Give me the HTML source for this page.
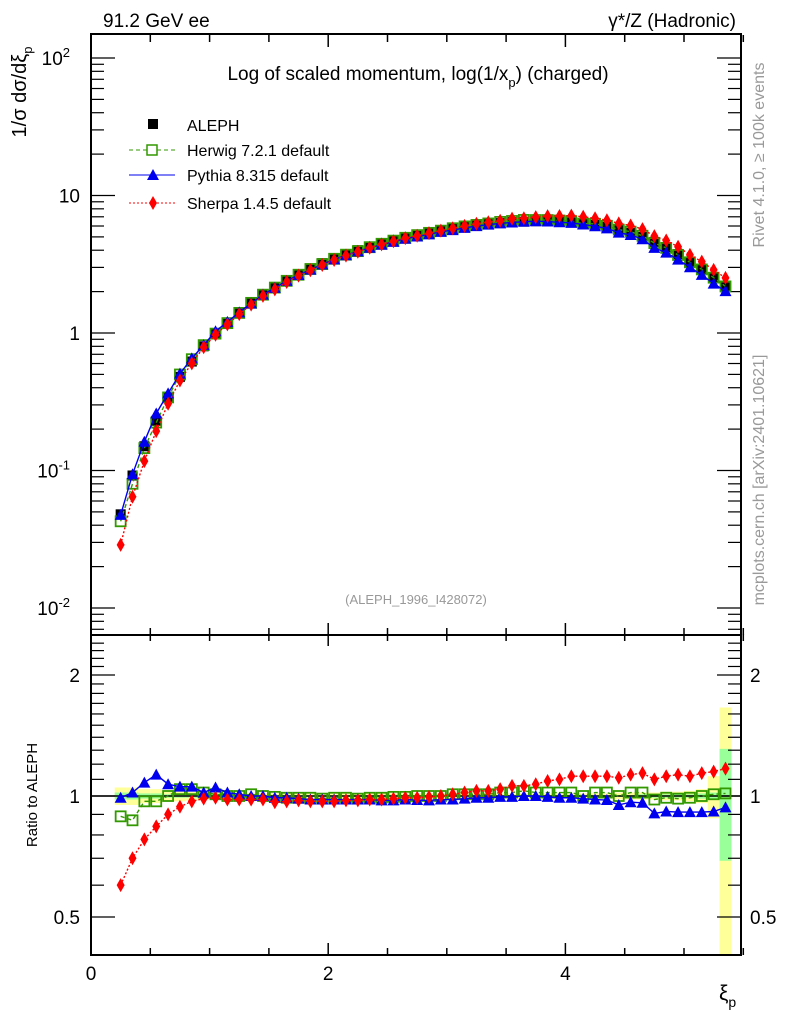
<!DOCTYPE html>
<html><head><meta charset="utf-8"><style>
body{margin:0;background:#fff}
svg{display:block;font-family:"Liberation Sans",sans-serif}
</style></head><body>
<svg id="c" width="786" height="1024" viewBox="0 0 786 1024" xmlns="http://www.w3.org/2000/svg">
<g id="bands"></g><g id="grid"></g><g id="series"></g>
<rect x="91" y="34" width="650" height="601" fill="none" stroke="#000" stroke-width="2"/>
<rect x="91" y="635" width="650" height="320" fill="none" stroke="#000" stroke-width="2"/>
<text x="103" y="27" font-size="19">91.2 GeV ee</text>
<text x="736" y="27" font-size="19" text-anchor="end">γ*/Z (Hadronic)</text>
<text x="418" y="80" font-size="19" text-anchor="middle">Log of scaled momentum, log(1/x<tspan font-size="13" dy="7">p</tspan><tspan dy="-7">) (charged)</tspan></text>
<text x="416" y="604" font-size="13" fill="#999" text-anchor="middle">(ALEPH_1996_I428072)</text>
<g>
<rect x="148" y="119" width="10" height="10" fill="#000"/>
<text x="187" y="131" font-size="16">ALEPH</text>
<line x1="129" y1="150" x2="175" y2="150" stroke="#339900" stroke-dasharray="4,3"/>
<rect x="147" y="145" width="10" height="10" fill="#fff" stroke="#339900" stroke-width="1.5"/>
<text x="187" y="156" font-size="16">Herwig 7.2.1 default</text>
<line x1="129" y1="175" x2="175" y2="175" stroke="#0000ee"/>
<path d="M153,169 L159,180 L147,180Z" fill="#0000ee"/>
<text x="187" y="181" font-size="16">Pythia 8.315 default</text>
<line x1="129" y1="203" x2="175" y2="203" stroke="#ff0000" stroke-dasharray="2,2"/>
<path d="M153,196 L157,203 L153,210 L149,203Z" fill="#ff0000"/>
<text x="187" y="209" font-size="16">Sherpa 1.4.5 default</text>
</g>
<text transform="translate(26,92) rotate(-90)" font-size="20" text-anchor="middle">1/σ   dσ/dξ<tspan font-size="13" dy="6">p</tspan></text>
<text transform="translate(37,795) rotate(-90)" font-size="15" text-anchor="middle">Ratio to ALEPH</text>
<text x="719" y="1000" font-size="21">ξ<tspan font-size="14" dy="7">p</tspan></text>
<text transform="translate(764,155) rotate(-90)" font-size="16" fill="#999" text-anchor="middle">Rivet 4.1.0, ≥ 100k events</text>
<text transform="translate(764,480) rotate(-90)" font-size="16" fill="#999" text-anchor="middle">mcplots.cern.ch [arXiv:2401.10621]</text>
</svg>
<script>
const xi = [0.25,0.35,0.45,0.55,0.65,0.75,0.85,0.95,1.05,1.15,1.25,1.35,1.45,1.55,1.65,1.75,1.85,1.95,2.05,2.15,2.25,2.35,2.45,2.55,2.65,2.75,2.85,2.95,3.05,3.15,3.25,3.35,3.45,3.55,3.65,3.75,3.85,3.95,4.05,4.15,4.25,4.35,4.45,4.55,4.65,4.75,4.85,4.95,5.05,5.15,5.25,5.35];
const aleph = [0.048,0.092,0.15,0.23,0.34,0.48,0.62,0.8,0.98,1.18,1.4,1.64,1.9,2.15,2.42,2.68,2.95,3.22,3.5,3.75,4.0,4.25,4.5,4.72,4.95,5.15,5.35,5.55,5.72,5.9,6.05,6.2,6.3,6.4,6.45,6.5,6.5,6.45,6.38,6.25,6.1,5.9,5.65,5.35,5.0,4.6,4.2,3.75,3.3,2.9,2.5,2.15];
const herwigRatio = [0.89,0.87,0.97,0.97,1.0,1.04,1.04,1.02,1.01,1.0,1.0,1.01,1.0,0.995,0.99,0.99,0.99,0.985,0.99,0.99,0.985,0.99,0.99,0.995,0.995,1.0,1.0,1.0,1.01,1.01,1.01,1.01,1.02,1.02,1.03,1.02,1.02,1.02,1.02,1.0,1.02,1.02,1.0,1.02,1.02,0.98,0.99,0.985,0.99,1.0,1.01,1.015];
const pythiaRatio = [0.99,1.02,1.08,1.13,1.07,1.055,1.055,1.02,1.05,1.02,1.01,1.0,1.0,0.99,0.99,0.985,0.98,0.98,0.98,0.98,0.98,0.98,0.975,0.975,0.98,0.977,0.975,0.98,0.98,0.985,0.99,0.99,0.995,0.995,1.0,1.0,0.995,0.99,0.99,0.985,0.98,0.977,0.95,0.965,0.962,0.905,0.915,0.912,0.912,0.912,0.915,0.937];
const sherpaRatio = [0.6,0.7,0.78,0.84,0.9,0.94,0.97,0.985,0.99,0.98,0.98,0.98,0.98,0.965,0.97,0.975,0.97,0.97,0.97,0.975,0.975,0.98,0.98,0.985,0.99,0.99,0.995,1.0,1.01,1.02,1.03,1.03,1.04,1.06,1.06,1.07,1.09,1.1,1.12,1.12,1.12,1.12,1.11,1.13,1.14,1.1,1.12,1.13,1.12,1.14,1.15,1.17];
const totErr = [0.05,0.05,0.04,0.04,0.03,0.03,0.025,0.02,0.02,0.02,0.02,0.015,0.015,0.015,0.015,0.015,0.015,0.015,0.015,0.015,0.015,0.015,0.015,0.015,0.015,0.015,0.015,0.015,0.015,0.015,0.015,0.015,0.015,0.015,0.015,0.015,0.015,0.015,0.015,0.015,0.015,0.015,0.02,0.02,0.02,0.02,0.025,0.025,0.03,0.04,0.12,0.66];
const statErr = [0.02,0.02,0.015,0.015,0.01,0.01,0.01,0.01,0.01,0.005,0.005,0.005,0.005,0.005,0.005,0.005,0.005,0.005,0.005,0.005,0.005,0.005,0.005,0.005,0.005,0.005,0.005,0.005,0.005,0.005,0.005,0.005,0.005,0.005,0.005,0.005,0.005,0.005,0.005,0.005,0.005,0.005,0.005,0.005,0.01,0.01,0.01,0.01,0.01,0.015,0.02,0.31];
const xTicks = [0,2,4];
const mainTicks = [["10","-2",0.01],["10","-1",0.1],["1","",1],["10","",10],["10","2",100]];
const ratioTicks = [["0.5",0.5],["1",1],["2",2]];

const NS="http://www.w3.org/2000/svg";
const X = v => 91 + v*118.6;
const Y = v => 333 - 137.5*Math.log10(v);
const R = v => Math.max(636, Math.min(954, 796 - 121*Math.log2(v)));
function mk(tag, attrs, parent){const e=document.createElementNS(NS,tag);for(const k in attrs)e.setAttribute(k,attrs[k]);(parent||document.getElementById('c')).appendChild(e);return e;}
const bands=document.getElementById('bands'), grid=document.getElementById('grid'), ser=document.getElementById('series');

xi.forEach((x,i)=>{
  const b1=mk('rect',{x:X(x-0.05),width:118.6*0.1,y:R(1+totErr[i]),height:R(1-totErr[i])-R(1+totErr[i]),fill:'#ffff99'},bands);
  
  
  const b2=mk('rect',{x:X(x-0.05),width:118.6*0.1,y:R(1+statErr[i]),height:R(1-statErr[i])-R(1+statErr[i]),fill:'#99ff99'},bands);
  
  
});
const l1=mk('line',{x1:91,x2:741,y1:R(1),y2:R(1),stroke:'#000','stroke-width':1.5},bands);



for(let v=0;v<=5.5;v+=0.5){
  const major = Math.abs(v%2)<1e-6;
  const len = major?12:7;
  [[955,-1],[635,-1],[634,1]].forEach(([y0,d])=>{
    const t=mk('line',{x1:X(v),x2:X(v),y1:y0,y2:y0+d*len,stroke:'#000','stroke-width':1.5},grid);
    
    
  });
  const t2=mk('line',{x1:X(v),x2:X(v),y1:35,y2:35+len,stroke:'#000','stroke-width':1.5},grid);
  
  
}
xTicks.forEach(v=>{
  const t=mk('text',{x:X(v),y:980,'font-size':19,'text-anchor':'middle'},grid);
  t.textContent=v;
  
  
});
for(let e=-3;e<=2;e++){for(let m=1;m<10;m++){
  const v=m*Math.pow(10,e), y=Y(v);
  if(y<35||y>634) continue;
  const len=m===1?23:12;
  [[92,1],[740,-1]].forEach(([x0,d])=>{
    const t=mk('line',{x1:x0,x2:x0+d*len,y1:y,y2:y,stroke:'#000','stroke-width':1.2},grid);
    
    
  });
}}
mainTicks.forEach(([b,e,v])=>{
  const t=mk('text',{x:e?70:80,y:Y(v)+7,'font-size':19,'text-anchor':'end'},grid);
  t.textContent=b;
  
  
  if(e){const s=mk('tspan',{'font-size':13,dy:-8},t);s.textContent=e;}
});
[0.4,0.5,0.6,0.7,0.8,0.9,1,1.1,1.2,1.3,1.4,1.5,1.6,1.7,1.8,1.9,2,2.1,2.2,2.3,2.4].forEach(v=>{
  const y=R(v); if(y<=637||y>=953) return;
  const len=(v===0.5||v===1||v===2)?23:12;
  [[92,1],[740,-1]].forEach(([x0,d])=>{
    const t=mk('line',{x1:x0,x2:x0+d*len,y1:y,y2:y,stroke:'#000','stroke-width':1.2},grid);
    
    
  });
});
ratioTicks.forEach(([s,v])=>{
  const t=mk('text',{x:80,y:R(v)+7,'font-size':19,'text-anchor':'end'},grid);
  t.textContent=s;
  
  
  const t2=mk('text',{x:750,y:R(v)+7,'font-size':19},grid);
  t2.textContent=s;
  
  
});

function marker(kind,cx,cy,color,parent){
  let e;
  if(kind==='sq') e=mk('rect',{x:cx-5,y:cy-5,width:10,height:10,fill:'#000'},parent);
  else if(kind==='osq') e=mk('rect',{x:cx-5,y:cy-5,width:10,height:10,fill:'none',stroke:color,'stroke-width':1.8},parent);
  else if(kind==='tri') e=mk('path',{d:`M${cx},${cy-6}L${cx+6},${cy+5}L${cx-6},${cy+5}Z`,fill:color},parent);
  else e=mk('path',{d:`M${cx},${cy-7}L${cx+4},${cy}L${cx},${cy+7}L${cx-4},${cy}Z`,fill:color},parent);
  return e;
}
const mc=[
  {name:'herwig',r:herwigRatio,color:'#339900',kind:'osq',dash:'4,3'},
  {name:'pythia',r:pythiaRatio,color:'#0000ee',kind:'tri',dash:''},
  {name:'sherpa',r:sherpaRatio,color:'#ff0000',kind:'dia',dash:'2,2'}
];
xi.forEach((x,i)=>{
  const m=marker('sq',X(x),Y(aleph[i]),'#000',ser);
  
  
});
mc.forEach(s=>{
  const main=xi.map((x,i)=>[X(x),Y(aleph[i]*s.r[i])]);
  const rat=xi.map((x,i)=>[X(x),R(s.r[i])]);
  [main,rat].forEach((pts,k)=>{
    const p=mk('polyline',{points:pts.map(p=>p.join(',')).join(' '),fill:'none',stroke:s.color,'stroke-width':1.4,'stroke-dasharray':s.dash},ser);
    
    
    pts.forEach(q=>{
      const m=marker(s.kind,q[0],q[1],s.color,ser);
      
      
    });
  });
});
</script>
</body></html>
